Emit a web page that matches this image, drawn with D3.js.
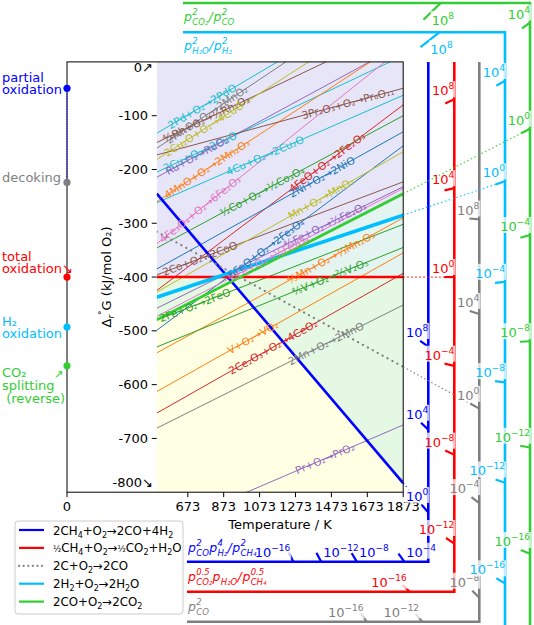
<!DOCTYPE html>
<html><head><meta charset="utf-8">
<script src="https://cdn.jsdelivr.net/npm/d3@7"></script>
<style>body{margin:0;background:#fff} text{font-family:"DejaVu Sans",sans-serif}</style>
</head><body><svg id="c" width="534" height="625"></svg>
<script>
// ---------------- data ----------------
const tempTicks = [0, 673, 873, 1073, 1273, 1473, 1673, 1873];
const gTicks = [0, -100, -200, -300, -400, -500, -600, -700, -800];
const Tmin = 500, Tmax = 1873;

const oxideLabels = ["2Pd+O₂→2PdO","2MnO+O₂→2MnO₂","⁴⁄₃Rh+O₂→⅔Rh₂O₃","2Cu₂O+O₂→4CuO","2Cu+O₂→2CuO",
  "Ru+O₂→RuO₂","4MnO+O₂→2Mn₂O₃","4Cu+O₂→2Cu₂O","3Pr₂O₃+O₂→Pr₆O₁₁","4FeO+O₂→2Fe₂O₃","2Ni+O₂→2NiO",
  "³⁄₂Co+O₂→½Co₃O₄","4Fe₃O₄+O₂→6Fe₂O₃","2Co+O₂→2CoO","6FeO+O₂→2Fe₃O₄","Mn+O₂→MnO₂","⁴⁄₃Fe+O₂→⅔Fe₂O₃",
  "³⁄₂Fe+O₂→½Fe₃O₄","⁴⁄₃Mn+O₂→⅔Mn₂O₃","⁴⁄₅V+O₂→⅖V₂O₅","2Fe+O₂→2FeO","V+O₂→VO₂","2Ce₂O₃+O₂→4CeO₂",
  "2Mn+O₂→2MnO","Pr+O₂→PrO₂"];
// ΔG (kJ/mol O2) at T = 500 K and at T = 1873 K
const oxideG500  = [-132.7,-160.6,-150,-181.5,-205,-214.5,-260,-262,-173,-425,-385,-346,-338,-396,-499,-428,-458,-473,-541,-530,-480,-613,-653,-681,-872];
const oxideG1873 = [ 138.5, 146,   68.4, 113,  11.5, 34,    40,  -62,  -49, -80, -130,-100, 27, -223,-156,-167,-232,-235,-290,-345,-302,-355,-393,-452,-675];
const oxideLabelT = [752,780,775,763,741,724,780,1103,1565,1449,1421,1086,741,741,1109,1415,1437,1120,1471,1465,713,1036,1148,1443,1437];
const oxideColorIdx = [9,7,5,8,9,4,1,9,5,3,0,2,6,5,0,8,4,6,1,2,2,1,3,7,4];

const gasNames = [["2CH","₄","+O","₂","→2CO+4H","₂"],["½","CH","₄","+O","₂","→","½","CO","₂","+H","₂","O"],["2C+O","₂","→2CO"],["2H","₂","+O","₂","→2H","₂","O"],["2CO+O","₂","→2CO","₂"]];
const gasG0    = [-49, -400, -224, -493, -565];   // ΔG at T = 0 K
const gasG1873 = [-783, -400, -567, -285, -245];  // ΔG at T = 1873 K
const pivotNames = [["partial","oxidation"],["total","oxidation↘"],["decoking"],["H₂","oxidation"],["CO₂","splitting"," (reverse)"]];
const ratioExponents = [-16, -12, -8, -4, 0, 4, 8];
const ratioTitles = [
  [{b:"p",sup:"2",sub:"CO"},{b:"p",sup:"4",sub:"H₂"},{b:"/"},{b:"p",sup:"2",sub:"CH₄"}],
  [{b:"p",sup:"0.5",sub:"CO₂"},{b:"p",sub:"H₂O"},{b:"/"},{b:"p",sup:"0.5",sub:"CH₄"}],
  [{b:"p",sup:"2",sub:"CO"}],
  [{b:"p",sup:"2",sub:"H₂O"},{b:"/"},{b:"p",sup:"2",sub:"H₂"}],
  [{b:"p",sup:"2",sub:"CO₂"},{b:"/"},{b:"p",sup:"2",sub:"CO"}]
];

// ---------------- styles / layout ----------------
const tab10 = ["#1f77b4","#ff7f0e","#2ca02c","#d62728","#9467bd","#8c564b","#e377c2","#7f7f7f","#bcbd22","#17becf"];
const gasColors = ["#0000ff","#ff0000","#7f7f7f","#00bfff","#32cd32"];
const gasWidths = [2.6, 2.6, 2.2, 3.6, 2.8];
const R10 = 8.314e-3 * Math.LN10; // kJ/K per decade

const svg = d3.select("#c");
const x = d3.scaleLinear().domain([0, 1873]).range([67, 403.2]);
const y = d3.scaleLinear().domain([0, -800]).range([61.9, 492.2]);
const X0 = x(Tmin), X1 = x(Tmax), Y0 = y(0), Y1 = y(-800);

svg.append("defs").append("clipPath").attr("id","plot")
  .append("rect").attr("x",X0).attr("y",Y0).attr("width",X1-X0).attr("height",Y1-Y0);

const gasG = (i,T) => gasG0[i] + (gasG1873[i]-gasG0[i]) * T / 1873;
const Gtot = gasG0[1];

// background regions
const bg = svg.append("g").attr("clip-path","url(#plot)");
bg.append("rect").attr("x",X0).attr("y",Y0).attr("width",X1-X0).attr("height",y(Gtot)-Y0).attr("fill","#e6e6f8");
bg.append("rect").attr("x",X0).attr("y",y(Gtot)).attr("width",X1-X0).attr("height",Y1-y(Gtot)).attr("fill","#ffffe3");
{
  const Ts = d3.range(Tmin, Tmax + 1, 1);
  const lowProd = T => Math.min(gasG(0,T), gasG(3,T), gasG(4,T));
  const highProd = T => Math.max(gasG(3,T), gasG(4,T));
  bg.append("path").datum(Ts).attr("fill","#e4f8e4")
    .attr("d", d3.area().x(T=>x(T)).y0(T=>y(Gtot)).y1(T=>y(Math.min(Gtot, lowProd(T)))));
  bg.append("path").datum(Ts).attr("fill","#e3f4f1")
    .attr("d", d3.area().x(T=>x(T)).y0(T=>y(Gtot)).y1(T=>y(Math.max(Gtot, highProd(T)))));
}

// oxide lines
const lines = svg.append("g").attr("clip-path","url(#plot)");
oxideLabels.forEach((lab,i)=>{
  lines.append("line").attr("x1",x(Tmin)).attr("y1",y(oxideG500[i])).attr("x2",x(Tmax)).attr("y2",y(oxideG1873[i]))
    .attr("stroke",tab10[oxideColorIdx[i]]).attr("stroke-width",1);
});
// gas reaction lines
gasNames.forEach((n,i)=>{
  lines.append("line").attr("x1",x(Tmin)).attr("y1",y(gasG(i,Tmin))).attr("x2",x(Tmax)).attr("y2",y(gasG(i,Tmax)))
    .attr("stroke",gasColors[i]).attr("stroke-width",gasWidths[i])
    .attr("stroke-dasharray", i===2 ? "0.1,5.5" : null).attr("stroke-linecap", i===2 ? "round":"butt");
});
// oxide labels
const labs = svg.append("g").attr("clip-path","url(#plot)");
oxideLabels.forEach((lab,i)=>{
  const T = oxideLabelT[i];
  const G = oxideG500[i] + (oxideG1873[i]-oxideG500[i])*(T-Tmin)/(Tmax-Tmin);
  const ang = Math.atan2(y(oxideG1873[i])-y(oxideG500[i]), x(Tmax)-x(Tmin))*180/Math.PI;
  labs.append("text").attr("transform",`translate(${x(T)},${y(G)}) rotate(${ang})`)
    .attr("text-anchor","middle").attr("dy","0.35em").style("font-size","10.5px")
    .attr("fill",tab10[oxideColorIdx[i]]).text(lab);
});

// frame
svg.append("rect").attr("x",x(0)).attr("y",Y0).attr("width",X1-x(0)).attr("height",Y1-Y0)
  .attr("fill","none").attr("stroke","#000").attr("stroke-width",1);
svg.append("line").attr("x1",x(0)).attr("x2",x(0)).attr("y1",y(gasG0[0])).attr("y2",y(gasG0[2]))
  .attr("stroke","#0000ff").attr("stroke-width",1).attr("stroke-dasharray","1.5,1");
// y ticks
gTicks.forEach(g=>{
  if (g!==0 && g!==-800) svg.append("line").attr("x1",X0-5).attr("x2",X0).attr("y1",y(g)).attr("y2",y(g)).attr("stroke","#000");
  const t = g===0 ? "0↗" : g===-800 ? "-800↘" : String(g);
  const yy = g===0 ? y(g)+10 : g===-800 ? y(g)-5 : y(g)+4.5;
  svg.append("text").attr("x", (g===0||g===-800)? 153 : 148).attr("y",yy).attr("text-anchor","end")
    .style("font-size","13px").attr("fill","#000").text(t);
});
// x ticks
tempTicks.forEach(t=>{
  svg.append("line").attr("x1",x(t)).attr("x2",x(t)).attr("y1",Y1).attr("y2",Y1+5).attr("stroke","#000");
  svg.append("text").attr("x",x(t)).attr("y",Y1+19).attr("text-anchor","middle").style("font-size","13px").text(t);
});
svg.append("text").attr("x",280).attr("y",529).attr("text-anchor","middle").style("font-size","13px").text("Temperature / K");
{
  const t = svg.append("text").attr("transform","translate(111,277) rotate(-90)").attr("text-anchor","middle").style("font-size","13px");
  t.append("tspan").text("Δ");
  t.append("tspan").attr("dy",3).style("font-size","9px").style("font-style","italic").text("r");
  t.append("tspan").attr("dy",-9).style("font-size","9px").text("°");
  t.append("tspan").attr("dy",6).text("G (kJ/mol O₂)");
}

// pivots at T = 0
const pivotLabelY = [[81.7,93.5],[260.7,272.7],[181.7],[326,337.5],[376.7,390,402.7]];
gasNames.forEach((n,i)=>{
  svg.append("circle").attr("cx",x(0)).attr("cy",y(gasG0[i])).attr("r",3.6).attr("fill",gasColors[i]);
  pivotNames[i].forEach((s,j)=>{
    svg.append("text").attr("x",2).attr("y",pivotLabelY[i][j]).style("font-size","13px").attr("fill",gasColors[i]).attr("xml:space","preserve").text(s);
  });
});
svg.append("text").attr("x",54).attr("y",378).style("font-size","11px").attr("fill",gasColors[4]).text("↗");

// ---------------- ratio nomogram scales ----------------
const frames = [
  {xv:428.3, ytop:62, yh:561.7, top:false},
  {xv:454.3, ytop:62, yh:591.7, top:false},
  {xv:479.3, ytop:62, yh:621.7, top:false},
  {xv:505,  yh:32.3, ybot:630, top:true},
  {xv:530,  yh:3,    ybot:630, top:true}
];
const XL = [187,187,187,183,183];
const nomo = svg.append("g");
function powerLabel(g, k, color) {
  const grp = g.append("g");
  const a = grp.append("text").attr("x",0).attr("y",0).style("font-size","13px").attr("fill",color).text("10");
  const w1 = a.node().getComputedTextLength();
  const b = grp.append("text").attr("x",w1).attr("y",-6).style("font-size","9px").attr("fill",color).text(String(k).replace("-","−"));
  const w = w1 + b.node().getComputedTextLength();
  grp.insert("rect","text").attr("x",-1).attr("y",-14).attr("width",w+2).attr("height",16).attr("fill","#fff").attr("opacity",0.75);
  return {grp, w};
}
gasNames.forEach((n,i)=>{
  const f = frames[i], c = gasColors[i];
  const s = (gasG1873[i]-gasG0[i])/1873;
  const Tv = x.invert(f.xv), Gh = y.invert(f.yh);
  const pv = [x(0), y(gasG0[i])];
  if (!f.top) {
    nomo.append("path").attr("d",`M${XL[i]},${f.yh}L${f.xv},${f.yh}L${f.xv},${f.ytop}`).attr("fill","none").attr("stroke",c).attr("stroke-width",2.6);
  } else {
    nomo.append("path").attr("d",`M${XL[i]},${f.yh}L${f.xv},${f.yh}L${f.xv},${f.ybot}`).attr("fill","none").attr("stroke",c).attr("stroke-width",2.6);
  }
  let prevRight = -Infinity;
  ratioExponents.forEach(k=>{
    const sk = s + R10*k;
    let P = null, side = null;
    const yv = y(gasG0[i] + sk*Tv);
    const vmin = f.top ? f.yh : f.ytop, vmax = f.top ? f.ybot : f.yh;
    if (yv >= vmin && yv <= vmax) { P = [f.xv, yv]; side = "v"; }
    else {
      const Th = (Gh - gasG0[i]) / sk;
      const xh = x(Th);
      if (Th > 0 && xh >= XL[i] && xh <= f.xv) { P = [xh, f.yh]; side = f.top ? "t" : "b"; }
    }
    if (!P) return;
    const dx = pv[0]-P[0], dy = pv[1]-P[1], L = Math.hypot(dx,dy), len = side==="t" ? 24 : 10;
    const Q = [P[0]+dx/L*len, P[1]+dy/L*len];
    nomo.append("line").attr("x1",P[0]).attr("y1",P[1]).attr("x2",Q[0]).attr("y2",Q[1]).attr("stroke",c).attr("stroke-width",2.2);
    if (k===0) {
      nomo.append("line").attr("x1",X1).attr("y1",y(gasG(i,Tmax))).attr("x2",P[0]).attr("y2",P[1])
        .attr("stroke",c).attr("stroke-width",1.2).attr("stroke-dasharray","1.5,2.5").attr("opacity",0.9);
    }
    const {grp, w} = powerLabel(nomo, k, c);
    let lx, ly;
    if (side==="v") { lx = P[0]-w; ly = Math.min(P[1], Q[1])-4; }
    else if (side==="t") { lx = P[0]-9; ly = P[1]+22; }
    else {
      lx = P[0]-3-w; ly = P[1]-5;
      if (lx < prevRight) lx = P[0]+2;
      prevRight = lx + w;
    }
    grp.attr("transform",`translate(${lx},${ly})`);
  });
});
// ratio titles (math style)
const titlePos = [[188,552],[188,581],[188,611],[184,50],[184,21]];
ratioTitles.forEach((parts,i)=>{
  let cx = titlePos[i][0]; const by = titlePos[i][1], c = gasColors[i];
  parts.forEach(p=>{
    const t = svg.append("text").attr("x",cx).attr("y",by).style("font-size","12.5px").style("font-style","italic").attr("fill",c).text(p.b);
    cx += t.node().getComputedTextLength() + 0.3;
    let w = 0;
    if (p.sup) { const u = svg.append("text").attr("x",cx).attr("y",by-6).style("font-size","8.5px").style("font-style","italic").attr("fill",c).text(p.sup); w = Math.max(w,u.node().getComputedTextLength()); }
    if (p.sub) { const u = svg.append("text").attr("x",cx).attr("y",by+3.5).style("font-size","8.5px").style("font-style","italic").attr("fill",c).text(p.sub); w = Math.max(w,u.node().getComputedTextLength()); }
    cx += w + 0.3;
  });
});

// legend
{
  const lg = svg.append("g");
  lg.append("rect").attr("x",15).attr("y",521).attr("width",168).attr("height",93).attr("rx",3)
    .attr("fill","#fff").attr("fill-opacity",0.8).attr("stroke","#ccc");
  gasNames.forEach((parts,i)=>{
    const yy = 530 + i*17.9;
    lg.append("line").attr("x1",19).attr("x2",44).attr("y1",yy).attr("y2",yy).attr("stroke",gasColors[i]).attr("stroke-width",2.2)
      .attr("stroke-dasharray", i===2 ? "0.1,4.5":null).attr("stroke-linecap", i===2?"round":"butt");
    let cx = 53;
    parts.forEach(p=>{
      const isSub = /^[₂₄]$/.test(p), isFrac = p==="½";
      const t = lg.append("text").attr("x",cx).attr("y",yy+4.5 + (isSub?3:0) + (isFrac?-0.5:0))
        .style("font-size", isSub ? "8px" : isFrac ? "8.5px" : "11.8px").text(isSub ? (p==="₂"?"2":"4") : p);
      cx += t.node().getComputedTextLength();
    });
  });
}
</script></body></html>
